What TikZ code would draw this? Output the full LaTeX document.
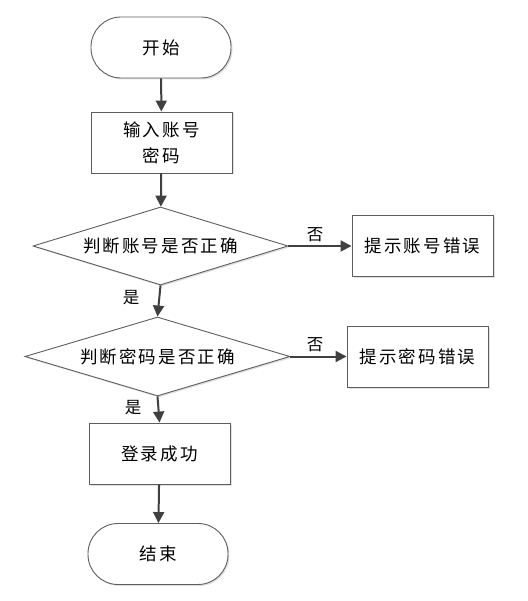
\documentclass[tikz,border=0pt]{standalone}
\usepackage{fontspec}
\newfontfamily\cjk[LetterSpace=12]{Noto Sans CJK SC}
\usetikzlibrary{arrows.meta,shapes.geometric,shadows}
\definecolor{edge}{HTML}{404040}
\definecolor{frame}{HTML}{5E5E5E}
\tikzset{
  base/.style={draw=frame, line width=0.9pt, fill=white, inner sep=0pt, align=center,
    font=\cjk\fontsize{17.5}{26}\selectfont,
    drop shadow={shadow xshift=1.5pt, shadow yshift=-1.5pt, fill=black!12, opacity=1}},
  term/.style={base, rectangle, rounded corners=30pt, minimum width=140pt, minimum height=61pt},
  procbox/.style={base, rectangle, minimum width=141pt, minimum height=61pt},
  decide/.style={base, diamond, aspect=3.3},
  flow/.style={draw=edge, line width=2pt, -{Triangle[length=11pt,width=11pt]}},
  lbl/.style={font=\cjk\fontsize{16.5}{18}\selectfont, inner sep=0pt}
}
\begin{document}
\begin{tikzpicture}[x=1pt,y=-1pt]
\useasboundingbox (0,0) rectangle (527,601);
\node[term] (start) at (161,47.5) {开始};
\node[procbox] (input) at (161.5,142.5) {输入账号\\密码};
\node[decide, minimum width=255pt, minimum height=78pt] (d1) at (160.5,246) {判断账号是否正确};
\node[procbox] (e1) at (422.5,246) {提示账号错误};
\node[decide, minimum width=265pt, minimum height=79pt] (d2) at (157.5,356.5) {判断密码是否正确};
\node[procbox] (e2) at (417.5,356.5) {提示密码错误};
\node[procbox] (ok) at (159.5,453.5) {登录成功};
\node[term] (stop) at (158,554) {结束};
\draw[flow] (start) -- (input);
\draw[flow] (input) -- (d1);
\draw[flow] (d1.east) -- (e1.west);
\draw[flow] (d1.south) -- (d2.north);
\draw[flow] (d2.east) -- (e2.west);
\draw[flow] (d2.south) -- (ok.north);
\draw[flow] (ok) -- (stop);
\node[lbl] (n1) at (315,235) {否};
\node[lbl] (y1) at (131,298) {是};
\node[lbl] (n2) at (315,345) {否};
\node[lbl] (y2) at (133,408) {是};
\end{tikzpicture}
\end{document}
